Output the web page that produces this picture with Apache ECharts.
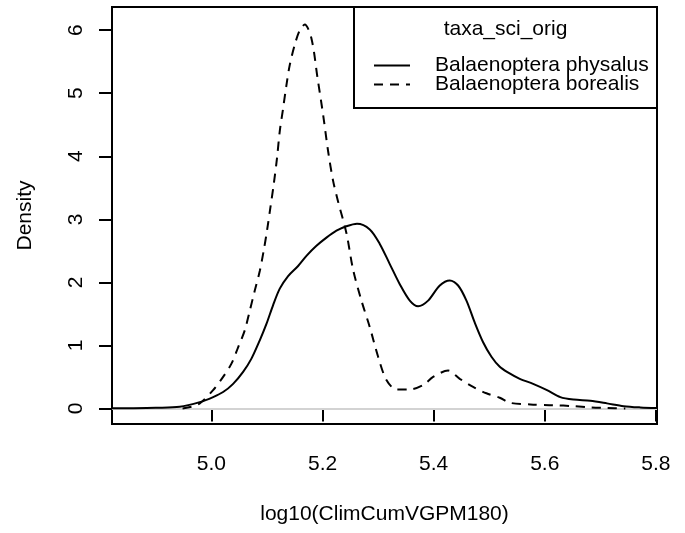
<!DOCTYPE html>
<html>
<head>
<meta charset="utf-8">
<script src="https://cdn.jsdelivr.net/npm/echarts@6/dist/echarts.min.js"></script>
<style>html,body{margin:0;padding:0;background:#fff}#c{width:685px;height:533px}</style>
</head>
<body>
<div id="c"></div>
<script>
// ---- data ----
const legendTitle = 'taxa_sci_orig';
const seriesNames = ['Balaenoptera physalus', 'Balaenoptera borealis'];
const xTicks = [5.0, 5.2, 5.4, 5.6, 5.8];
const yTicks = [0, 1, 2, 3, 4, 5, 6];
const xName = 'log10(ClimCumVGPM180)';
const yName = 'Density';

const physX = [4.821, 4.86, 4.90, 4.943, 4.979, 5.003, 5.021, 5.039, 5.057, 5.072, 5.087, 5.099, 5.111, 5.123, 5.138, 5.156, 5.171, 5.189, 5.207, 5.225, 5.243, 5.262, 5.285, 5.303, 5.321, 5.339, 5.357, 5.372, 5.390, 5.411, 5.429, 5.444, 5.459, 5.474, 5.489, 5.504, 5.519, 5.532, 5.555, 5.579, 5.604, 5.628, 5.652, 5.682, 5.712, 5.742, 5.772, 5.802];
const physY = [0.002, 0.004, 0.01, 0.025, 0.10, 0.18, 0.26, 0.39, 0.58, 0.79, 1.08, 1.34, 1.64, 1.90, 2.10, 2.26, 2.42, 2.58, 2.71, 2.82, 2.89, 2.93, 2.84, 2.61, 2.29, 1.97, 1.71, 1.62, 1.71, 1.95, 2.03, 1.95, 1.71, 1.36, 1.05, 0.82, 0.66, 0.58, 0.47, 0.39, 0.29, 0.18, 0.14, 0.12, 0.08, 0.036, 0.016, 0.005];

const borX = [4.948, 4.965, 4.979, 5.003, 5.021, 5.036, 5.048, 5.060, 5.069, 5.078, 5.087, 5.094, 5.100, 5.106, 5.112, 5.118, 5.123, 5.129, 5.135, 5.141, 5.150, 5.159, 5.168, 5.180, 5.191, 5.201, 5.210, 5.219, 5.228, 5.243, 5.255, 5.270, 5.285, 5.300, 5.315, 5.333, 5.357, 5.381, 5.399, 5.426, 5.447, 5.471, 5.495, 5.519, 5.537, 5.574, 5.615, 5.652, 5.682, 5.712, 5.745];
const borY = [0.0, 0.03, 0.08, 0.29, 0.50, 0.71, 0.97, 1.24, 1.55, 1.87, 2.18, 2.50, 2.82, 3.18, 3.55, 3.97, 4.40, 4.76, 5.13, 5.45, 5.77, 6.00, 6.09, 5.87, 5.24, 4.66, 4.08, 3.61, 3.28, 2.78, 2.20, 1.71, 1.29, 0.82, 0.45, 0.30, 0.30, 0.37, 0.50, 0.60, 0.47, 0.34, 0.24, 0.17, 0.09, 0.063, 0.052, 0.036, 0.016, 0.006, 0.0];

const xMin = 4.821, xMax = 5.802, yMin = -0.247, yMax = 6.368;

const FONT = 'Liberation Sans, Arial, Helvetica, sans-serif';
const FS = 21;

const zip = (xs, ys) => xs.map((x, i) => [x, ys[i]]);

const chart = echarts.init(document.getElementById('c'), null, {renderer: 'canvas'});
chart.setOption({
  animation: false,
  backgroundColor: '#ffffff',
  color: ['#000', '#000'],
  textStyle: {fontFamily: FONT},
  grid: {
    left: 112, top: 7, width: 545, height: 417,
    show: true, borderColor: '#000', borderWidth: 2, backgroundColor: 'transparent'
  },
  xAxis: {
    type: 'value', min: xMin, max: xMax,
    name: xName, nameLocation: 'middle', nameGap: 80,
    nameTextStyle: {color: '#000', fontSize: FS, fontFamily: FONT},
    axisLine: {show: false},
    splitLine: {show: false},
    axisTick: {show: true, inside: false, length: 13, lineStyle: {color: '#000', width: 2}, customValues: xTicks},
    axisLabel: {color: '#000', fontSize: FS, fontFamily: FONT, margin: 30, customValues: xTicks,
      formatter: v => v.toFixed(1)}
  },
  yAxis: {
    type: 'value', min: yMin, max: yMax,
    name: yName, nameLocation: 'middle', nameGap: 76, nameRotate: 90,
    nameTextStyle: {color: '#000', fontSize: FS, fontFamily: FONT},
    axisLine: {show: false},
    splitLine: {show: false},
    axisTick: {show: true, inside: false, length: 13, lineStyle: {color: '#000', width: 2}, customValues: yTicks},
    axisLabel: {color: '#000', fontSize: FS, fontFamily: FONT, margin: 25, rotate: 90, customValues: yTicks,
      formatter: v => String(Math.round(v))}
  },
  legend: {
    orient: 'vertical', left: 373, top: 55, padding: 0,
    itemWidth: 36, itemHeight: 10, itemGap: -2,
    data: seriesNames,
    itemStyle: {opacity: 0},
    textStyle: {color: '#000', fontSize: FS, fontFamily: FONT, lineHeight: 19, padding: [0, 0, 0, 20]},
    z: 20
  },
  graphic: [
    {type: 'rect', z: 10, shape: {x: 354, y: 7, width: 303, height: 101},
      style: {fill: '#fff', stroke: '#000', lineWidth: 2}},
    {type: 'text', z: 11, x: 505.5, y: 29,
      style: {text: legendTitle, fill: '#000', font: FS + 'px ' + FONT, textAlign: 'center', textVerticalAlign: 'middle'}}
  ],
  series: [
    {
      name: seriesNames[0], type: 'line', data: zip(physX, physY),
      smooth: 0.3, showSymbol: false, symbol: 'none', z: 3,
      itemStyle: {color: '#000'},
      lineStyle: {color: '#000', width: 2, type: 'solid'},
      markLine: {
        silent: true, symbol: 'none', z: 1,
        lineStyle: {color: '#d3d3d3', width: 2, type: 'solid'},
        label: {show: false},
        data: [{yAxis: 0}]
      }
    },
    {
      name: seriesNames[1], type: 'line', data: zip(borX, borY),
      smooth: 0.3, showSymbol: false, symbol: 'none', z: 3,
      itemStyle: {color: '#000'},
      lineStyle: {color: '#000', width: 2, type: [9, 7]}
    }
  ]
});
</script>
</body>
</html>
